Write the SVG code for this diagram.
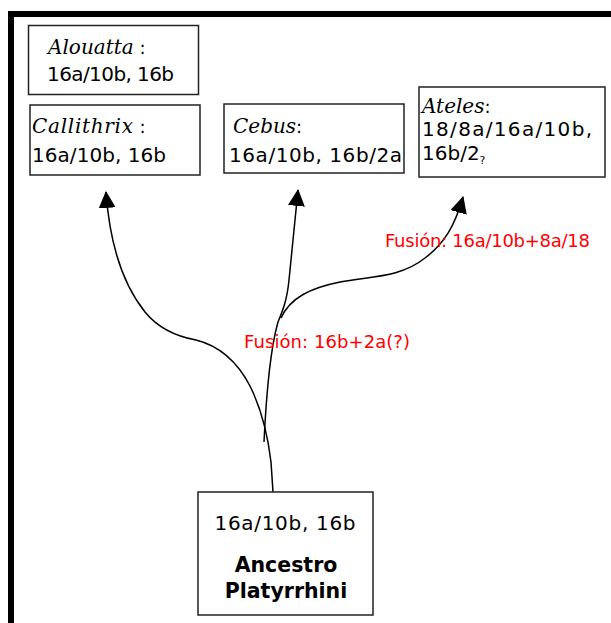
<svg xmlns="http://www.w3.org/2000/svg" width="611" height="623" viewBox="0 0 611 623">
<style>
.box{fill:#fff;stroke:#222;stroke-width:1.5}
.num{font-family:"DejaVu Sans",sans-serif;font-size:20px;fill:#000}
.gen{font-family:"DejaVu Serif",serif;font-style:italic;font-size:20px;fill:#000}
.col{font-family:"DejaVu Sans",sans-serif;font-style:normal;font-size:18px}
.bold{font-family:"DejaVu Sans",sans-serif;font-weight:bold;font-size:20.5px;fill:#000}
.red{font-family:"DejaVu Sans",sans-serif;font-size:18px;fill:#ff0000}
.edge{fill:none;stroke:#000;stroke-width:1.5}
</style>
<defs>
<marker id="arr" markerUnits="userSpaceOnUse" markerWidth="17" markerHeight="17" refX="15" refY="8" orient="auto" viewBox="0 0 16 16">
<path d="M0,0 L16,8 L0,16 z" fill="#000"/>
</marker>
</defs>
<rect width="611" height="623" fill="#fff"/>
<path d="M11,623 L11,14 L611,14" fill="none" stroke="#000" stroke-width="6"/>

<g id="connectors">
<path class="edge" d="M273,492 L271,462 C268,437 262,410 250,386 C238,363 220,346 196,340 C174,336 158,328 145,312 C125,287 110,248 106,192" marker-end="url(#arr)"/>
<path class="edge" d="M264,442 C266,400 270,350 278,322 C283,310 287,300 289,280 C292,250 295,220 298,190" marker-end="url(#arr)"/>
<path class="edge" d="M281,318 C290,298 310,288 340,282 C370,276 400,278 425,258 C445,243 455,225 463,197" marker-end="url(#arr)"/>
</g>

<g id="label-fusion1">
<text class="red" x="385" y="247" textLength="205">Fusión: 16a/10b+8a/18</text>
</g>
<g id="label-fusion2">
<text class="red" x="244" y="348" textLength="166">Fusión: 16b+2a(?)</text>
</g>

<g id="alouatta">
<rect class="box" x="28.5" y="25.5" width="170" height="69"/>
<text class="gen" x="48" y="54">Alouatta<tspan class="col"> :</tspan></text>
<text class="num" x="47" y="81" textLength="127">16a/10b, 16b</text>
</g>

<g id="callithrix">
<rect class="box" x="30" y="105" width="170" height="70"/>
<text class="gen" x="32" y="133"><tspan textLength="101">Callithrix</tspan><tspan class="col"> :</tspan></text>
<text class="num" x="32" y="162" textLength="134">16a/10b, 16b</text>
</g>

<g id="cebus">
<rect class="box" x="224" y="104" width="180" height="69"/>
<text class="gen" x="233" y="133">Cebus<tspan class="col">:</tspan></text>
<text class="num" x="229" y="162" textLength="173">16a/10b, 16b/2a</text>
</g>

<g id="ateles">
<rect class="box" x="419" y="87" width="186" height="90"/>
<text class="gen" x="422" y="113">Ateles<tspan class="col">:</tspan></text>
<text class="num" x="422" y="136" textLength="170">18/8a/16a/10b,</text>
<text class="num" x="422" y="160">16b/2<tspan font-size="11" dy="4">?</tspan></text>
</g>

<g id="ancestro">
<rect class="box" x="198" y="492" width="175" height="123"/>
<text class="num" x="285" y="530" text-anchor="middle" font-size="22" textLength="141">16a/10b, 16b</text>
<text class="bold" x="286" y="572" text-anchor="middle">Ancestro</text>
<text class="bold" x="286" y="598" text-anchor="middle">Platyrrhini</text>
</g>
</svg>
